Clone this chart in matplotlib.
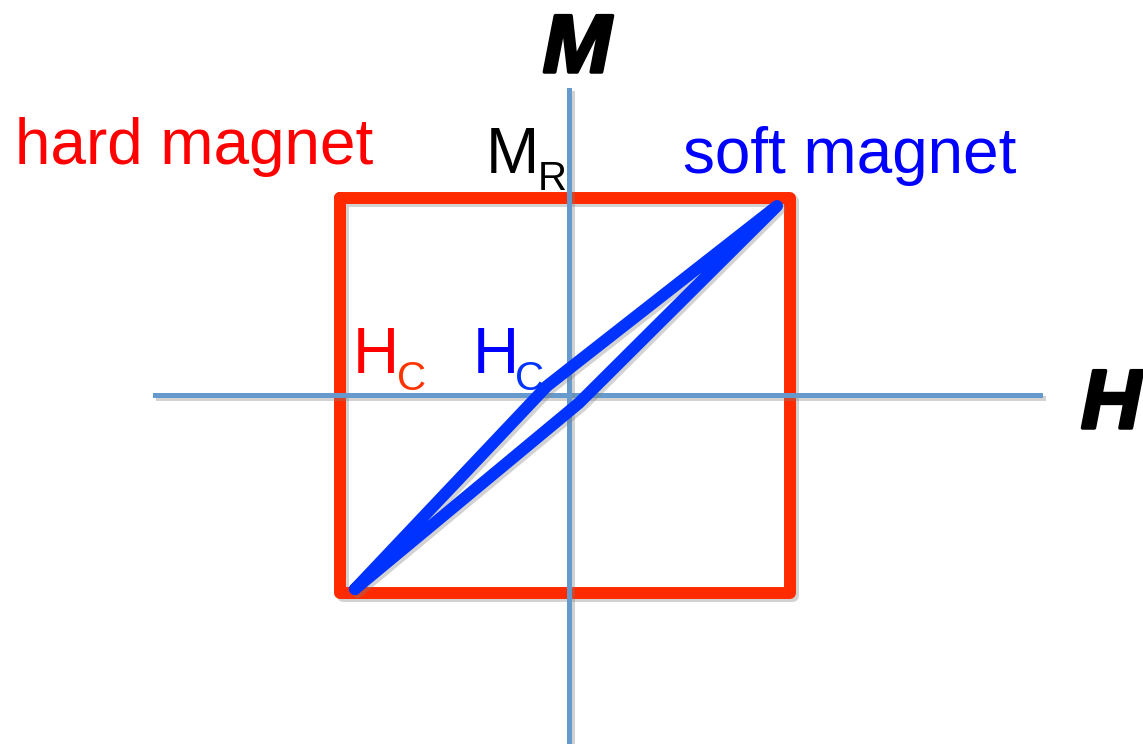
import matplotlib.pyplot as plt
import matplotlib.patheffects as pe

plt.rcParams['font.family'] = ['Liberation Sans', 'DejaVu Sans']

# hard magnet: square loop (H, M)
hard_H = [-2.29, 2.21, 2.21, -2.29, -2.29]
hard_M = [1.97, 1.97, -1.98, -1.98, 1.97]

# soft magnet: thin slanted loop (H, M)
soft_H = [-2.14, -0.22, 2.08, 0.10, -2.14]
soft_M = [-1.94, 0.09, 1.89, -0.08, -1.94]

# axis extents
H_axis = [-4.14, 4.71]
M_axis = [3.05, -3.47]

shadow = [pe.SimpleLineShadow(offset=(2, -2), shadow_color='gray', alpha=0.35), pe.Normal()]
heavy = [pe.withStroke(linewidth=2.5, foreground='black')]

fig = plt.figure(figsize=(11.43, 7.44), dpi=100)
ax = fig.add_axes([0, 0, 1, 1])
ax.set_xlim(-5.69, 5.74)
ax.set_ylim(-3.49, 3.95)
ax.axis('off')

# hard magnet loop
ax.plot(hard_H, hard_M, color='#ff2a00', lw=8.6, solid_joinstyle='round',
        solid_capstyle='round', path_effects=shadow, zorder=1)

# axes
ax.plot(H_axis, [0, 0], color='#6699cc', lw=3.6, path_effects=shadow, zorder=2)
ax.plot([0, 0], M_axis, color='#6699cc', lw=3.6, path_effects=shadow, zorder=2)

# soft magnet loop
ax.plot(soft_H, soft_M, color='#0033ff', lw=8.6, solid_joinstyle='round',
        solid_capstyle='round', path_effects=shadow, zorder=3)

# axis labels
ax.text(0.08, 3.23, 'M', fontsize=59, fontweight='bold', fontstyle='italic',
        ha='center', va='baseline', color='black', path_effects=heavy)
ax.text(5.12, -0.33, 'H', fontsize=60, fontweight='bold', fontstyle='italic',
        ha='left', va='baseline', color='black', path_effects=heavy)

# loop labels
ax.text(-5.54, 2.31, 'hard magnet', fontsize=46, color='#ff0000', ha='left', va='baseline')
ax.text(1.14, 2.22, 'soft magnet', fontsize=46, color='#0000ff', ha='left', va='baseline')

# M_R
ax.text(-0.83, 2.22, 'M', fontsize=46, color='black', ha='left', va='baseline')
ax.text(-0.31, 2.05, 'R', fontsize=29, color='black', ha='left', va='baseline')

# coercive fields
ax.text(-2.16, 0.22, 'H', fontsize=46, color='#ff0000', ha='left', va='baseline')
ax.text(-1.72, 0.05, 'C', fontsize=29, color='#ff3300', ha='left', va='baseline')
ax.text(-0.96, 0.22, 'H', fontsize=46, color='#0000ff', ha='left', va='baseline')
ax.text(-0.54, 0.05, 'C', fontsize=29, color='#0033ff', ha='left', va='baseline')

plt.savefig('out.png', dpi=100)
